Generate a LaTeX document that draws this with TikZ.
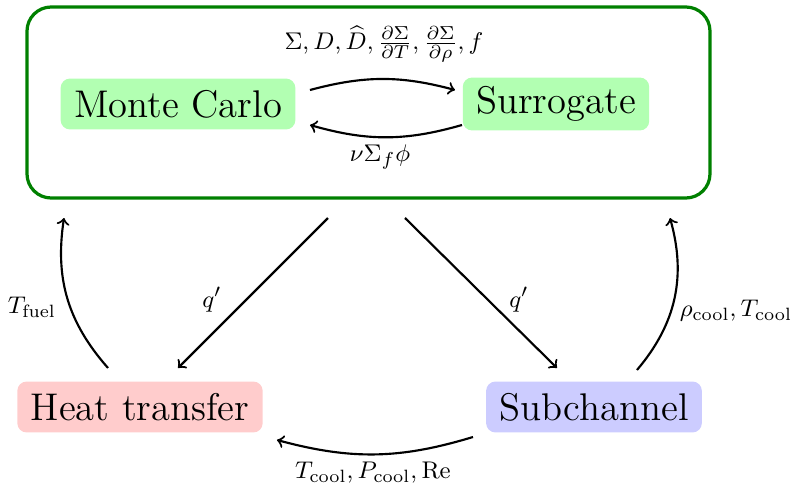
\documentclass[tikz,border=0pt]{standalone}
\usepackage{amsmath}
\begin{document}
\begin{tikzpicture}[x=0.3731pt,y=0.3731pt,
  blk/.style={rounded corners=3.5pt,inner xsep=5pt,minimum height=19pt,font=\Large},
  conn/.style={->,thick},
  lbl/.style={inner sep=1pt,font=\fontsize{9.5pt}{11pt}\selectfont}]
\useasboundingbox (0,0) rectangle (792,487);
% outer box
\draw[very thick,draw={rgb,255:red,0;green,128;blue,0},rounded corners=9pt] (27,480) rectangle (710,289);
\node[blk,fill=green!30] (mc) at (178,383) {Monte Carlo};
\node[blk,fill=green!30] (sur) at (556,383) {Surrogate};
\node[blk,fill=red!20] (ht) at (140,80) {Heat transfer};
\node[blk,fill=blue!20] (sc) at (594,80) {Subchannel};
% connector endpoints
\coordinate (a1) at (310,397); \coordinate (a2) at (455,397);
\coordinate (b1) at (462,362); \coordinate (b2) at (310,362);
\coordinate (c1) at (328,269); \coordinate (c2) at (178,119);
\coordinate (d1) at (405,269); \coordinate (d2) at (557,119);
\coordinate (e1) at (108,119); \coordinate (e2) at (64,269);
\coordinate (f1) at (637,117); \coordinate (f2) at (670,269);
\coordinate (g1) at (473,50);  \coordinate (g2) at (277,47);
\draw[conn] (a1) to[bend left=15] (a2);
\draw[conn] (b1) to[bend left=16] (b2);
\draw[conn] (c1) -- (c2);
\draw[conn] (d1) -- (d2);
\draw[conn] (e1) to[bend left=25] (e2);
\draw[conn] (f1) to[bend right=28] (f2);
\draw[conn] (g1) to[bend left=16] (g2);
% labels
\node[lbl] (la) at (384,443) {$\Sigma, D, \widehat{D}, \frac{\partial\Sigma}{\partial T}, \frac{\partial\Sigma}{\partial\rho}, f$};
\node[lbl] (lb) at (380,330) {$\nu\Sigma_f\phi$};
\node[lbl] (lc) at (212,187) {$q'$};
\node[lbl] (ld) at (519,187) {$q'$};
\node[lbl] (le) at (32,180) {$T_{\text{fuel}}$};
\node[lbl] (lf) at (736,176) {$\rho_{\text{cool}}, T_{\text{cool}}$};
\node[lbl] (lg) at (373,14) {$T_{\text{cool}}, P_{\text{cool}}, \mathrm{Re}$};
\end{tikzpicture}
\end{document}
